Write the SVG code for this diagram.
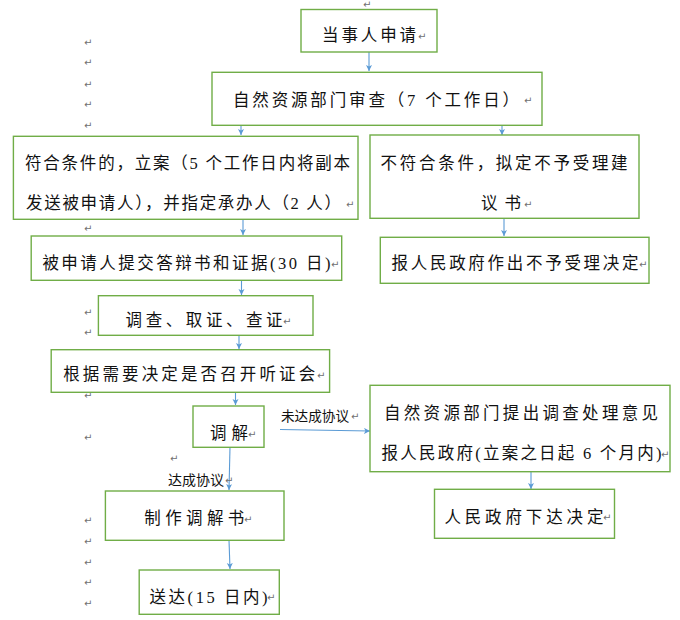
<svg xmlns="http://www.w3.org/2000/svg" width="680" height="620" viewBox="0 0 680 620">
<defs>
<marker id="ah" markerWidth="8" markerHeight="8" refX="6" refY="3" orient="auto" markerUnits="userSpaceOnUse">
<path d="M0,0 L6,3 L0,6 L1.5,3 Z" fill="#5b9bd5"/>
</marker>
</defs>
<style>
.box{fill:#ffffff;stroke:#70ad47;stroke-width:1.4}
.t{font-family:"Liberation Serif","Noto Sans CJK SC",serif;font-size:16.5px;fill:#111}
.lb{font-family:"Noto Sans CJK SC",sans-serif;font-size:13.5px;fill:#111}
.pm{font-family:"DejaVu Sans",sans-serif;font-size:10px;fill:#707070}
.c{stroke:#5b9bd5;stroke-width:1.1;fill:none;marker-end:url(#ah)}
</style>
<rect width="680" height="620" fill="#ffffff"/>
<g id="marks">
<text class="pm" x="363" y="8">↵</text>
<text class="pm" x="84" y="46">↵</text>
<text class="pm" x="84" y="66">↵</text>
<text class="pm" x="84" y="88">↵</text>
<text class="pm" x="84" y="108">↵</text>
<text class="pm" x="84" y="129">↵</text>
<text class="pm" x="84" y="232">↵</text>
<text class="pm" x="84" y="316">↵</text>
<text class="pm" x="84" y="336">↵</text>
<text class="pm" x="84" y="399">↵</text>
<text class="pm" x="84" y="441">↵</text>
<text class="pm" x="170" y="462">↵</text>
<text class="pm" x="84" y="524">↵</text>
<text class="pm" x="84" y="545">↵</text>
<text class="pm" x="84" y="566">↵</text>
<text class="pm" x="84" y="586">↵</text>
<text class="pm" x="84" y="607">↵</text>
</g>
<g id="connectors">
<line class="c" x1="369" y1="52" x2="369" y2="71"/>
<line class="c" x1="241" y1="125" x2="241" y2="135"/>
<line class="c" x1="502" y1="125" x2="502" y2="135"/>
<line class="c" x1="243" y1="219" x2="243" y2="235"/>
<line class="c" x1="504" y1="218" x2="504" y2="236"/>
<line class="c" x1="241.5" y1="280" x2="241.5" y2="295"/>
<line class="c" x1="239" y1="335" x2="239" y2="349"/>
<line class="c" x1="235.5" y1="392" x2="235.5" y2="405"/>
<line class="c" x1="280" y1="429.5" x2="370" y2="431"/>
<line class="c" x1="230" y1="447" x2="229" y2="490"/>
<line class="c" x1="229" y1="540" x2="230" y2="569"/>
<line class="c" x1="531" y1="471.5" x2="531" y2="489"/>
<text class="lb" x="281" y="420.5" textLength="68" lengthAdjust="spacingAndGlyphs">未达成协议</text>
<text class="pm" x="351" y="420">↵</text>
<text class="lb" x="168" y="484.5" textLength="56" lengthAdjust="spacingAndGlyphs">达成协议</text>
<text class="pm" x="225" y="484">↵</text>
</g>
<g id="n1">
<rect class="box" x="301" y="9.5" width="136" height="42.5"/>
<text class="t" x="322" y="41" textLength="94" lengthAdjust="spacing">当事人申请</text>
<text class="pm" x="418" y="40">↵</text>
</g>
<g id="n2">
<rect class="box" x="212" y="72.3" width="330" height="53"/>
<text class="t" x="233" y="105.5" textLength="286" lengthAdjust="spacing">自然资源部门审查（7 个工作日）</text>
<text class="pm" x="524" y="104">↵</text>
</g>
<g id="n3">
<rect class="box" x="13.4" y="136.3" width="344.6" height="83"/>
<text class="t" x="25" y="169.3" textLength="325" lengthAdjust="spacing">符合条件的，立案（5 个工作日内将副本</text>
<text class="t" x="26" y="209.3" textLength="315" lengthAdjust="spacing">发送被申请人），并指定承办人（2 人）</text>
<text class="pm" x="346" y="208">↵</text>
</g>
<g id="n4">
<rect class="box" x="370" y="135" width="269" height="83.3"/>
<text class="t" x="380.6" y="169" textLength="247" lengthAdjust="spacing">不符合条件，拟定不予受理建</text>
<text class="t" x="481" y="209" textLength="40" lengthAdjust="spacing">议书</text>
<text class="pm" x="524" y="208">↵</text>
</g>
<g id="n5">
<rect class="box" x="31.2" y="236" width="310.5" height="44.3"/>
<text class="t" x="42.4" y="269.3" textLength="288" lengthAdjust="spacing">被申请人提交答辩书和证据(30 日)</text>
<text class="pm" x="331" y="268">↵</text>
</g>
<g id="n6">
<rect class="box" x="380.3" y="237.3" width="268.7" height="46"/>
<text class="t" x="391.5" y="269.3" textLength="247" lengthAdjust="spacing">报人民政府作出不予受理决定</text>
<text class="pm" x="639" y="268">↵</text>
</g>
<g id="n7">
<rect class="box" x="98.4" y="295.7" width="214.6" height="39.6"/>
<text class="t" x="125.6" y="326" textLength="157" lengthAdjust="spacing">调查、取证、查证</text>
<text class="pm" x="283" y="325">↵</text>
</g>
<g id="n8">
<rect class="box" x="51.2" y="349.7" width="278.4" height="42.6"/>
<text class="t" x="63.2" y="380" textLength="252" lengthAdjust="spacing">根据需要决定是否召开听证会</text>
<text class="pm" x="317" y="379">↵</text>
</g>
<g id="n9">
<rect class="box" x="193" y="406" width="71" height="41.3"/>
<text class="t" x="210" y="439.3" textLength="38" lengthAdjust="spacing">调解</text>
<text class="pm" x="248" y="438">↵</text>
</g>
<g id="n10">
<rect class="box" x="370" y="385.3" width="300" height="86.4"/>
<text class="t" x="384" y="419" textLength="274" lengthAdjust="spacing">自然资源部门提出调查处理意见</text>
<text class="t" x="381.5" y="459.3" textLength="280" lengthAdjust="spacing">报人民政府(立案之日起 6 个月内)</text>
<text class="pm" x="661" y="458">↵</text>
</g>
<g id="n11">
<rect class="box" x="105.4" y="491" width="178.6" height="49.3"/>
<text class="t" x="144.3" y="524.3" textLength="100" lengthAdjust="spacing">制作调解书</text>
<text class="pm" x="244" y="523">↵</text>
</g>
<g id="n12">
<rect class="box" x="139.2" y="570" width="140.1" height="44.3"/>
<text class="t" x="149.5" y="602.5" textLength="118" lengthAdjust="spacing">送达(15 日内)</text>
<text class="pm" x="267" y="601">↵</text>
</g>
<g id="n13">
<rect class="box" x="434.5" y="489.3" width="180" height="49"/>
<text class="t" x="444.4" y="522.5" textLength="159" lengthAdjust="spacing">人民政府下达决定</text>
<text class="pm" x="603" y="521">↵</text>
</g>
</svg>
